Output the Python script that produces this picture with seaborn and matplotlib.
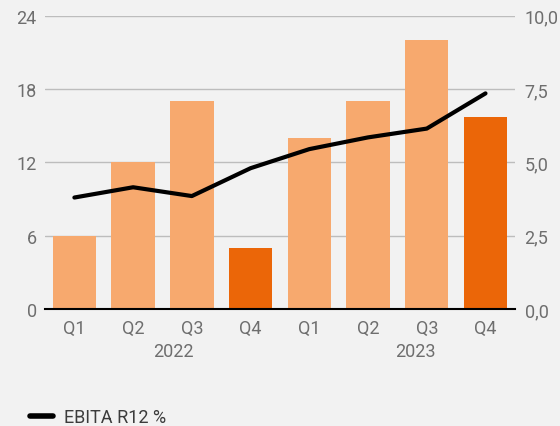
import pandas as pd
import seaborn as sns
import matplotlib.pyplot as plt

# Datos
periodos = ['Q1 2022', 'Q2 2022', 'Q3 2022', 'Q4 2022',
            'Q1 2023', 'Q2 2023', 'Q3 2023', 'Q4 2023']
trimestres = ['Q1', 'Q2', 'Q3', 'Q4', 'Q1', 'Q2', 'Q3', 'Q4']
anios = ['2022', '2023']
ebita = [6.0, 12.0, 17.0, 5.0, 14.0, 17.0, 22.0, 15.7]
ebita_r12 = [3.8, 4.15, 3.85, 4.8, 5.45, 5.85, 6.15, 7.35]
colores = ['#f7a96e', '#f7a96e', '#f7a96e', '#eb6608',
           '#f7a96e', '#f7a96e', '#f7a96e', '#eb6608']

datos = pd.DataFrame({'periodo': periodos, 'ebita': ebita,
                      'r12': ebita_r12, 'pos': range(len(periodos))})

sns.set_style('white')
plt.rcParams['font.family'] = ['Roboto', 'DejaVu Sans']
gris = '#6e6e6e'
fondo = '#f2f2f2'

fig = plt.figure(figsize=(5.6, 4.27), dpi=100, facecolor=fondo)
ax = fig.add_axes([0.0804, 0.274, 0.839, 0.687])
ax.set_facecolor(fondo)

sns.barplot(data=datos, x='periodo', y='ebita', hue='periodo',
            palette=colores, legend=False, width=0.74, saturation=1,
            linewidth=0, ax=ax, zorder=2)
ax.set_xlim(-0.5, 7.5)
ax.set_ylim(0, 24)
ax.set_yticks([0, 6, 12, 18, 24])
ax.set_xticks(range(8))
ax.set_xticklabels(trimestres)
ax.set_xlabel('')
ax.set_ylabel('')
ax.grid(axis='y', color='#bdbdbd', lw=1, zorder=0)
ax.set_axisbelow(True)
for s in ['top', 'left', 'right']:
    ax.spines[s].set_visible(False)
ax.spines['bottom'].set_color('black')
ax.spines['bottom'].set_linewidth(1.5)
ax.spines['bottom'].set_zorder(5)
ax.tick_params(axis='both', length=0, labelsize=13, labelcolor=gris)
ax.tick_params(axis='y', pad=6)
ax.tick_params(axis='x', pad=7)

for x, a in zip([1.68, 5.8], anios):
    ax.text(x, -0.143, a, transform=ax.get_xaxis_transform(),
            ha='center', va='center', fontsize=13, color=gris)

ax2 = ax.twinx()
sns.lineplot(data=datos, x='pos', y='r12', color='black', lw=3,
             solid_capstyle='round', label='EBITA R12 %', ax=ax2, zorder=4)
ax2.set_ylim(0, 10)
ax2.set_yticks([0, 2.5, 5, 7.5, 10])
ax2.set_yticklabels(['0,0', '2,5', '5,0', '7,5', '10,0'])
ax2.set_ylabel('')
ax2.set_xlabel('')
for s in ax2.spines.values():
    s.set_visible(False)
ax2.tick_params(axis='y', length=0, labelsize=13, labelcolor=gris, pad=7)
ax2.get_legend().remove()

h, l = ax2.get_legend_handles_labels()
leg = fig.legend(h, l, loc='center left', bbox_to_anchor=(30 / 560, 9 / 427),
                 frameon=False, borderaxespad=0, borderpad=0,
                 handlelength=1.3, handletextpad=0.6, fontsize=13)
for t in leg.get_texts():
    t.set_color('#3c3c3c')
for ln in leg.get_lines():
    ln.set_linewidth(4)
    ln.set_solid_capstyle('round')

fig.savefig('out.png', dpi=100, facecolor=fondo)
